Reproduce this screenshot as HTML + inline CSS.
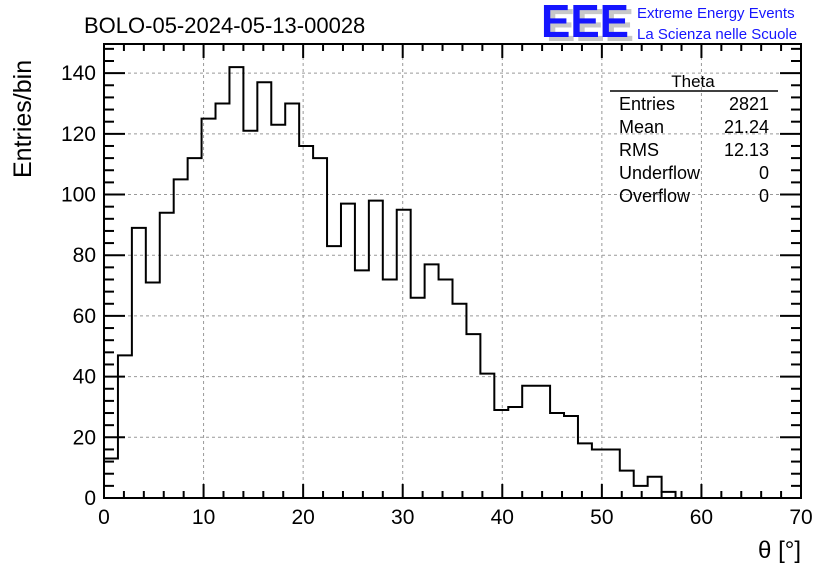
<!DOCTYPE html>
<html><head><meta charset="utf-8"><style>
body{margin:0;background:#fff;}
svg text{font-family:"Liberation Sans",sans-serif;}
</style></head><body>
<svg id="chart" width="836" height="572" xmlns="http://www.w3.org/2000/svg">
<rect width="836" height="572" fill="#fff"/>
<text x="84" y="33" font-size="22">BOLO-05-2024-05-13-00028</text>
<g>
<text x="546" y="41" font-size="46" fill="#c8c8c8" font-weight="bold" textLength="88" lengthAdjust="spacingAndGlyphs">EEE</text>
<text x="541" y="37" font-size="46" fill="#1515ff" font-weight="bold" textLength="88" lengthAdjust="spacingAndGlyphs">EEE</text>
<text x="637" y="18" font-size="15" fill="#1515ff">Extreme Energy Events</text>
<text x="637" y="39" font-size="15" fill="#1515ff">La Scienza nelle Scuole</text>
</g>
<g id="grid"></g>
<g id="axes"></g>
<path id="hist" fill="none" stroke="#000" stroke-width="2"/>
<rect x="104" y="44" width="697" height="454" fill="none" stroke="#000" stroke-width="2"/>
<g font-size="18">
<text x="693" y="87" text-anchor="middle" font-size="17">Theta</text>
<line x1="610" y1="91" x2="778" y2="91" stroke="#000" stroke-width="1.5"/>
<text x="619" y="110">Entries</text><text x="769" y="110" text-anchor="end">2821</text>
<text x="619" y="133">Mean</text><text x="769" y="133" text-anchor="end">21.24</text>
<text x="619" y="156">RMS</text><text x="769" y="156" text-anchor="end">12.13</text>
<text x="619" y="179">Underflow</text><text x="769" y="179" text-anchor="end">0</text>
<text x="619" y="202">Overflow</text><text x="769" y="202" text-anchor="end">0</text>
</g>
<text transform="translate(31,178) rotate(-90)" font-size="25">Entries/bin</text>
<text x="801" y="558" text-anchor="end" font-size="24">θ [°]</text>
</svg>
<script>
const binWidth = 1.4;
const counts = [13,47,89,71,94,105,112,125,130,142,121,137,123,130,116,112,83,97,75,98,72,95,66,77,72,64,54,41,29,30,37,37,28,27,18,16,16,9,4,7,2,0,0,0,0,0,0,0,0,0];
const xTicks = [0,10,20,30,40,50,60,70];
const yTicks = [0,20,40,60,80,100,120,140];
const X0=104,X1=801,Y0=498,Y1=44,xmax=70,ymax=149.6;
const xs=v=>X0+(v/xmax)*(X1-X0);
const ys=v=>Y0-(v/ymax)*(Y0-Y1);
const NS="http://www.w3.org/2000/svg";
function mk(tag,attrs,parent){const e=document.createElementNS(NS,tag);for(const k in attrs)e.setAttribute(k,attrs[k]);parent.appendChild(e);return e;}
const grid=document.getElementById('grid'),axes=document.getElementById('axes');
xTicks.forEach(t=>{
  if(t>0&&t<70){const l=mk('line',{x1:xs(t),x2:xs(t),y1:Y0,y2:Y1,stroke:'#999','stroke-dasharray':'3,3'},grid);
  
  }
  const tx=mk('text',{x:xs(t),y:Y0+26,'text-anchor':'middle','font-size':'21'},axes);tx.textContent=t;
  
  
});
for(let v=0;v<=70;v+=2){const L=(v%10===0)?14:7;
  mk('line',{x1:xs(v),x2:xs(v),y1:Y0,y2:Y0-L,stroke:'#000','stroke-width':2},axes);
  mk('line',{x1:xs(v),x2:xs(v),y1:Y1,y2:Y1+L,stroke:'#000','stroke-width':2},axes);}
yTicks.forEach(t=>{
  if(t>0){const l=mk('line',{x1:X0,x2:X1,y1:ys(t),y2:ys(t),stroke:'#999','stroke-dasharray':'3,3'},grid);
  
  }
  const tx=mk('text',{x:X0-8,y:ys(t)+7,'text-anchor':'end','font-size':'21'},axes);tx.textContent=t;
  
  
});
for(let v=0;v<=148;v+=4){const L=(v%20===0)?21:10;
  mk('line',{x1:X0,x2:X0+L,y1:ys(v),y2:ys(v),stroke:'#000','stroke-width':2},axes);
  mk('line',{x1:X1,x2:X1-L,y1:ys(v),y2:ys(v),stroke:'#000','stroke-width':2},axes);}
let d='M'+xs(0)+','+ys(0);
counts.forEach((c,i)=>{d+=' L'+xs(i*binWidth)+','+ys(c)+' L'+xs((i+1)*binWidth)+','+ys(c);});
document.getElementById('hist').setAttribute('d',d);
</script>
</body></html>
